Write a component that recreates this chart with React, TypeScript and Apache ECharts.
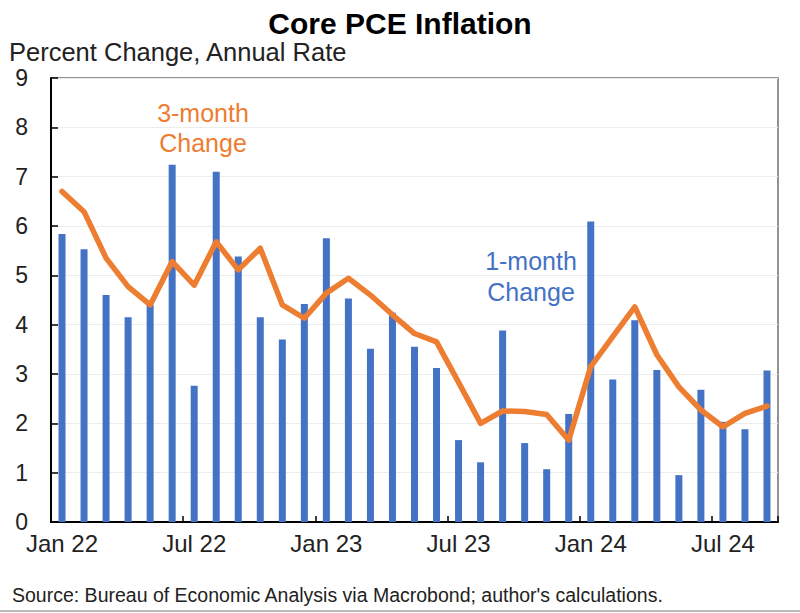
import React, { useEffect, useRef } from "react";
import * as echarts from "echarts";

const months = [
  "Jan 22","Feb 22","Mar 22","Apr 22","May 22","Jun 22","Jul 22","Aug 22","Sep 22","Oct 22","Nov 22","Dec 22",
  "Jan 23","Feb 23","Mar 23","Apr 23","May 23","Jun 23","Jul 23","Aug 23","Sep 23","Oct 23","Nov 23","Dec 23",
  "Jan 24","Feb 24","Mar 24","Apr 24","May 24","Jun 24","Jul 24","Aug 24","Sep 24",
];
const oneMonth = [
  5.84, 5.53, 4.6, 4.15, 4.4, 7.24, 2.76, 7.1, 5.38, 4.15, 3.7, 4.42,
  5.75, 4.53, 3.51, 4.24, 3.55, 3.12, 1.66, 1.21, 3.88, 1.6, 1.07, 2.19,
  6.09, 2.89, 4.09, 3.08, 0.95, 2.68, 2.03, 1.88, 3.07,
];
const threeMonth = [
  6.7, 6.29, 5.35, 4.77, 4.4, 5.28, 4.8, 5.68, 5.11, 5.55, 4.4, 4.13,
  4.64, 4.94, 4.6, 4.2, 3.82, 3.65, 2.83, 2.0, 2.25, 2.24, 2.18, 1.66,
  3.15, 3.76, 4.36, 3.39, 2.74, 2.27, 1.93, 2.2, 2.35,
];
const yTicks = [0, 9, 1];

const BLUE = "#4472C4";
const ORANGE = "#ED7D31";
const FONT = "Liberation Sans, Arial, sans-serif";

export default function App() {
  const ref = useRef<HTMLDivElement>(null);
  useEffect(() => {
    if (!ref.current) return;
    const chart = echarts.init(ref.current, undefined, { renderer: "svg" });
    chart.setOption({
      animation: false,
      backgroundColor: "#fff",
      textStyle: { fontFamily: FONT },
      title: [
        {
          text: "Core PCE Inflation",
          left: 395,
          textAlign: "center",
          top: 3,
          textStyle: { fontSize: 30, fontWeight: "bold", color: "#000", fontFamily: FONT },
        },
        {
          text: "Percent Change, Annual Rate",
          left: 4,
          top: 34,
          textStyle: { fontSize: 25.5, fontWeight: "normal", color: "#222", fontFamily: FONT },
        },
        {
          text: "Source: Bureau of Economic Analysis via Macrobond; author's calculations.",
          left: 7,
          top: 580,
          textStyle: { fontSize: 19.5, fontWeight: "normal", color: "#222", fontFamily: FONT },
        },
      ],
      grid: {
        left: 51,
        right: 22,
        top: 78,
        bottom: 91,
        show: true,
        borderColor: "#707070",
        borderWidth: 1.5,
      },
      xAxis: {
        type: "category",
        data: months,
        boundaryGap: true,
        axisLine: { show: true, lineStyle: { color: "#000", width: 2 } },
        axisTick: { show: true, inside: true, length: 6, interval: 5, lineStyle: { color: "#000", width: 1.5 } },
        axisLabel: { interval: 5, fontSize: 24, color: "#222", margin: 9, fontFamily: FONT },
        splitLine: { show: false },
      },
      yAxis: {
        type: "value",
        min: yTicks[0],
        max: yTicks[1],
        interval: yTicks[2],
        axisLine: { show: true, lineStyle: { color: "#000", width: 2 } },
        axisTick: { show: true, inside: true, length: 7, lineStyle: { color: "#000", width: 1.5 } },
        axisLabel: { fontSize: 23, color: "#222", margin: 23, fontFamily: FONT },
        splitLine: { show: true, lineStyle: { color: "#ececec", width: 1 } },
      },
      series: [
        {
          type: "bar",
          data: oneMonth,
          barWidth: 7,
          itemStyle: { color: BLUE },
          z: 2,
        },
        {
          type: "line",
          data: threeMonth,
          symbol: "none",
          lineStyle: { color: ORANGE, width: 5.5, join: "round", cap: "round" },
          z: 3,
        },
      ],
      graphic: [
        { type: "text", x: 203, y: 113, style: { text: "3-month", fill: ORANGE, font: `25px ${FONT}`, align: "center", verticalAlign: "middle" } },
        { type: "text", x: 203, y: 143, style: { text: "Change", fill: ORANGE, font: `25px ${FONT}`, align: "center", verticalAlign: "middle" } },
        { type: "text", x: 531, y: 261, style: { text: "1-month", fill: BLUE, font: `25px ${FONT}`, align: "center", verticalAlign: "middle" } },
        { type: "text", x: 531, y: 292, style: { text: "Change", fill: BLUE, font: `25px ${FONT}`, align: "center", verticalAlign: "middle" } },
        { type: "line", shape: { x1: 0, y1: 611, x2: 800, y2: 611 }, style: { stroke: "#bbb", lineWidth: 2 } },
      ],
    });
    return () => chart.dispose();
  }, []);
  return <div ref={ref} style={{ width: 800, height: 613, position: "absolute", left: 0, top: 0 }} />;
}
